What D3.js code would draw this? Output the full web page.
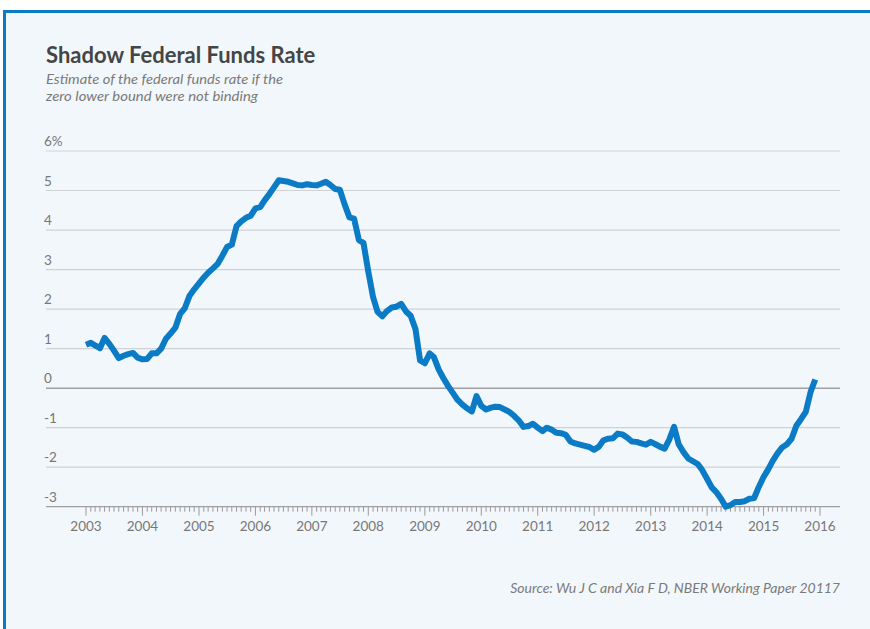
<!DOCTYPE html>
<html>
<head>
<meta charset="utf-8">
<script src="https://cdn.jsdelivr.net/npm/d3@7"></script>
<style>
  body { margin: 0; background: #fff; }
  svg { display: block; font-family: Lato, "Noto Sans", sans-serif; }
</style>
</head>
<body>
<script>
//monthly shadow rate, Jan 2003 - Dec 2015 (percent)
var startYear = 2003;
var rates = [
  1.10, 1.15, 1.08, 1.01, 1.27, 1.12, 0.95, 0.76, 0.82, 0.86, 0.89, 0.77,
  0.73, 0.74, 0.88, 0.88, 1.00, 1.25, 1.38, 1.53, 1.88, 2.02, 2.34, 2.50,
  2.65, 2.80, 2.92, 3.03, 3.14, 3.35, 3.57, 3.63, 4.10, 4.22, 4.31, 4.36,
  4.55, 4.58, 4.75, 4.91, 5.08, 5.26, 5.24, 5.22, 5.18, 5.14, 5.13, 5.16,
  5.14, 5.13, 5.17, 5.22, 5.14, 5.04, 5.02, 4.65, 4.32, 4.29, 3.75, 3.67,
  2.95, 2.30, 1.93, 1.82, 1.95, 2.04, 2.06, 2.13, 1.94, 1.83, 1.50, 0.70,
  0.63, 0.88, 0.78, 0.47, 0.25, 0.05, -0.12, -0.30, -0.42, -0.51, -0.59, -0.20,
  -0.45, -0.54, -0.50, -0.47, -0.48, -0.54, -0.60, -0.70, -0.82, -0.98, -0.96, -0.90,
  -1.00, -1.09, -1.00, -1.05, -1.13, -1.14, -1.18, -1.35, -1.40, -1.43, -1.46, -1.49,
  -1.56, -1.48, -1.32, -1.28, -1.27, -1.15, -1.17, -1.25, -1.35, -1.36, -1.40, -1.43,
  -1.36, -1.42, -1.48, -1.53, -1.30, -0.98, -1.42, -1.62, -1.78, -1.85, -1.92, -2.08,
  -2.30, -2.52, -2.63, -2.80, -3.00, -2.96, -2.88, -2.88, -2.86, -2.80, -2.78, -2.50,
  -2.25, -2.05, -1.84, -1.65, -1.50, -1.42, -1.28, -0.95, -0.78, -0.60, -0.10, 0.22
];
var yTicks = [6, 5, 4, 3, 2, 1, 0, -1, -2, -3];
var xYears = [2003, 2004, 2005, 2006, 2007, 2008, 2009, 2010, 2011, 2012, 2013, 2014, 2015, 2016];

var width = 870, height = 629;

var svg = d3.select("body").append("svg")
    .attr("width", width)
    .attr("height", height);

//panel background and blue frame
svg.append("rect").attr("x", 3).attr("y", 10).attr("width", width - 3).attr("height", height - 10)
    .attr("fill", "#f2f7fc");
svg.append("rect").attr("x", 3).attr("y", 10).attr("width", width - 3).attr("height", 3)
    .attr("fill", "#0a7bc4");
svg.append("rect").attr("x", 3).attr("y", 10).attr("width", 3).attr("height", height - 10)
    .attr("fill", "#0a7bc4");

//titles
svg.append("text").attr("x", 46).attr("y", 63)
    .attr("font-size", 22).attr("font-weight", "bold").attr("fill", "#454545")
    .text("Shadow Federal Funds Rate");
svg.append("text").attr("x", 46).attr("y", 84)
    .attr("font-size", 14).attr("font-style", "italic").attr("fill", "#7a7a7a")
    .attr("textLength", 237).attr("lengthAdjust", "spacingAndGlyphs")
    .text("Estimate of the federal funds rate if the");
svg.append("text").attr("x", 46).attr("y", 101)
    .attr("font-size", 14).attr("font-style", "italic").attr("fill", "#7a7a7a")
    .attr("textLength", 212).attr("lengthAdjust", "spacingAndGlyphs")
    .text("zero lower bound were not binding");

//scales
var x = d3.scaleTime()
    .domain([new Date(2003, 0, 1), new Date(2016, 0, 1)])
    .range([86, 820]);
var y = d3.scaleLinear()
    .domain([-3, 6])
    .range([506.7, 151]);

//gridlines and y labels
svg.selectAll(".grid")
    .data(yTicks)
    .enter()
    .append("line")
    .attr("class", "grid")
    .attr("x1", 46).attr("x2", 840)
    .attr("y1", function(d){ return y(d); })
    .attr("y2", function(d){ return y(d); })
    .attr("stroke", function(d){ return d === 0 || d === -3 ? "#a0a0a0" : "#cfd1d4"; })
    .attr("stroke-width", function(d){ return d === 0 ? 1.5 : 1.2; });

svg.selectAll(".ylab")
    .data(yTicks)
    .enter()
    .append("text")
    .attr("class", "ylab")
    .attr("x", 44)
    .attr("y", function(d){ return y(d) - 5; })
    .attr("font-size", 13.5).attr("fill", "#777")
    .text(function(d){ return d === 6 ? "6%" : d; });

//x axis: monthly minor ticks, yearly major ticks
var months = d3.timeMonth.range(new Date(2003, 0, 1), new Date(2016, 0, 2));
svg.selectAll(".mtick")
    .data(months)
    .enter()
    .append("line")
    .attr("class", "mtick")
    .attr("x1", function(d){ return x(d); })
    .attr("x2", function(d){ return x(d); })
    .attr("y1", y(-3))
    .attr("y2", function(d){ return d.getMonth() === 0 ? y(-3) + 9 : y(-3) + 5; })
    .attr("stroke", "#9a9a9a").attr("stroke-width", 1);

svg.selectAll(".xlab")
    .data(xYears)
    .enter()
    .append("text")
    .attr("class", "xlab")
    .attr("x", function(d){ return x(new Date(d, 0, 1)); })
    .attr("y", 531)
    .attr("text-anchor", "middle")
    .attr("font-size", 13.5).attr("fill", "#777")
    .text(function(d){ return d; });

//shadow rate line
var line = d3.line()
    .x(function(d, i){ return x(new Date(startYear, i, 1)); })
    .y(function(d){ return y(d); });

svg.append("path")
    .datum(rates)
    .attr("d", line)
    .attr("fill", "none")
    .attr("stroke", "#0a7bc4")
    .attr("stroke-width", 6)
    .attr("stroke-linejoin", "round")
    .attr("stroke-linecap", "butt");

//source
svg.append("text").attr("x", 840).attr("y", 593)
    .attr("text-anchor", "end")
    .attr("font-size", 14).attr("font-style", "italic").attr("fill", "#7a7a7a")
    .text("Source: Wu J C and Xia F D, NBER Working Paper 20117");
</script>
</body>
</html>
